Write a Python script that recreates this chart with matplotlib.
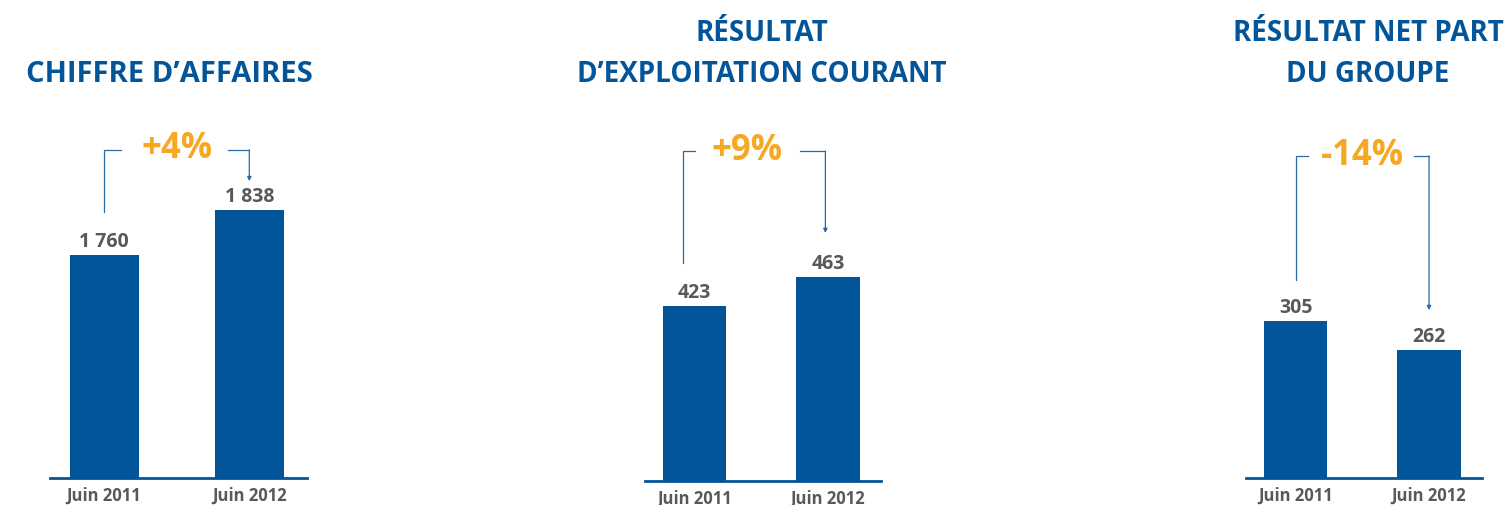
import matplotlib.pyplot as plt

W, H = 1510, 505

periods = ["Juin 2011", "Juin 2012"]
titles = ["CHIFFRE D’AFFAIRES",
          "RÉSULTAT\nD’EXPLOITATION COURANT",
          "RÉSULTAT NET PART\nDU GROUPE"]
chiffre_affaires = [1760, 1838]
resultat_exploitation = [423, 463]
resultat_net = [305, 262]
series = [chiffre_affaires, resultat_exploitation, resultat_net]

blue = "#03559A"
grey = "#595959"
orange = "#F7A823"
line_blue = "#2A69A8"

plt.rcParams['font.family'] = ['Open Sans', 'DejaVu Sans']

# layout of each panel in pixels of the picture
# left/right = extent of the base line, base = baseline row, scale = px per unit,
# y0 = value at the base line (the axes are cut), bracket = x positions (data) of the arrow
panels = [
    dict(left=50, right=307, base=478, scale=0.581, y0=1377, title_x=169, title_size=21,
         top=150, lgap=43, rgap=29, lx=(0.0, 0.12), rx=(0.852, 1.0), pct_x=0.5, pct_y=158),
    dict(left=645, right=881, base=481, scale=0.725, y0=181.6, title_x=762, title_size=20,
         top=151, lgap=43, rgap=44, lx=(-0.086, 0.0), rx=(0.787, 0.98), pct_x=0.39, pct_y=160),
    dict(left=1246, right=1482, base=478, scale=0.674, y0=72.2, title_x=1368, title_size=20,
         top=156, lgap=41, rgap=40, lx=(0.0, 0.094), rx=(0.89, 1.0), pct_x=0.5, pct_y=165),
]

fig = plt.figure(figsize=(W / 100, H / 100), dpi=100)

for p, values, title in zip(panels, series, titles):
    ax = fig.add_axes([p["left"] / W, 1 - p["base"] / H,
                       (p["right"] - p["left"]) / W, p["base"] / H])
    ax.set_facecolor("none")
    ax.bar(range(len(values)), values, width=0.475, color=blue, zorder=2)
    ax.set_xlim(-0.372, 1.397)
    ax.set_ylim(p["y0"], p["y0"] + p["base"] / p["scale"])

    for s in ["top", "left", "right"]:
        ax.spines[s].set_visible(False)
    ax.spines["bottom"].set_color(blue)
    ax.spines["bottom"].set_linewidth(2)
    ax.set_yticks([])
    ax.set_xticks(range(len(values)))
    ax.set_xticklabels(periods, fontsize=12, fontweight="bold", color=grey)
    ax.tick_params(axis="x", length=0, pad=6.5)

    # value labels
    for i, v in enumerate(values):
        ax.annotate(f"{v:,}".replace(",", " "), (i, v), xytext=(0, 6),
                    textcoords="offset points", ha="center", va="baseline",
                    fontsize=14, fontweight="bold", color=grey)

    # bracket with arrow
    def ypx(px):
        return p["y0"] + (p["base"] - px) / p["scale"]

    y_top = ypx(p["top"])
    y_left = values[0] + p["lgap"] / p["scale"]
    y_right = values[1] + p["rgap"] / p["scale"]
    ax.plot([p["lx"][0], p["lx"][0], p["lx"][1]], [y_left, y_top, y_top],
            color=line_blue, lw=0.9, clip_on=False, solid_joinstyle="miter")
    ax.plot([p["rx"][0], p["rx"][1]], [y_top, y_top],
            color=line_blue, lw=0.9, clip_on=False, solid_joinstyle="miter")
    ax.annotate("", xy=(p["rx"][1], y_right), xytext=(p["rx"][1], y_top),
                arrowprops=dict(arrowstyle="-|>", color=line_blue, lw=0.9,
                                mutation_scale=6, shrinkA=0, shrinkB=0))

    pct = (values[1] / values[0] - 1) * 100
    ax.text(p["pct_x"], ypx(p["pct_y"]), f"{pct:+.0f}%", ha="center", va="baseline",
            fontsize=25, fontweight="bold", color=orange)

    # title, last line sits on the same row for every panel
    for k, line in enumerate(reversed(title.split("\n"))):
        fig.text(p["title_x"] / W, 1 - (82 - 41 * k) / H, line, ha="center",
                 va="baseline", fontsize=p["title_size"], fontweight="bold", color=blue)

fig.savefig("out.png", dpi=100)
